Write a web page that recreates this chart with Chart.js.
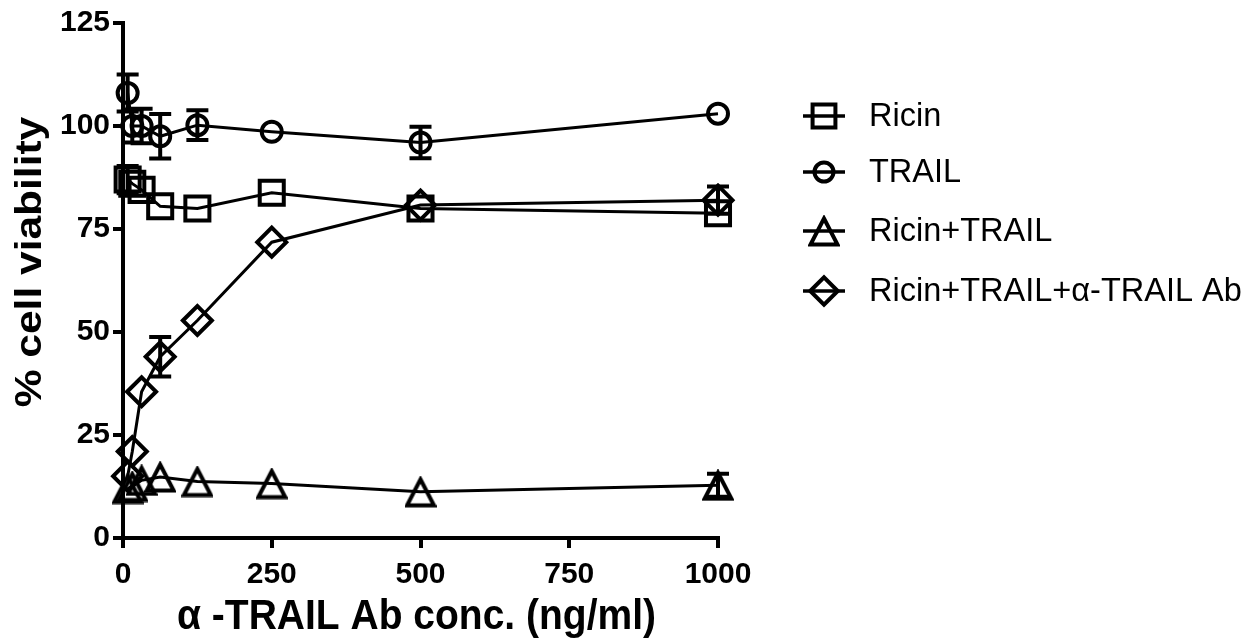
<!DOCTYPE html>
<html>
<head>
<meta charset="utf-8">
<script src="https://cdn.jsdelivr.net/npm/chart.js@4.4.1/dist/chart.umd.min.js"></script>
<style>
  html, body { margin: 0; padding: 0; background: #ffffff; }
  #wrap { width: 1259px; height: 644px; }
</style>
</head>
<body>
<div id="wrap"><canvas id="chart" width="1259" height="644"></canvas></div>
<script>
// Antibody concentrations (ng/ml), two-fold dilution series
const concentrations = [7.8, 15.6, 31.25, 62.5, 125, 250, 500, 1000];

// % cell viability per treatment, with SEM
const ricinValues       = [87, 86, 84.5, 80.5, 80, 83.8, 80, 78.8];
const ricinErrors       = [3.3, 0, 0, 0, 0, 0, 0, 0];
const trailValues       = [108, 100, 100, 97.5, 100.2, 98.6, 96, 103];
const trailErrors       = [4.5, 4, 4.2, 5.4, 3.6, 0, 3.8, 0];
const ricinTrailValues  = [12, 12.5, 14, 14.8, 13.7, 13.2, 11.2, 12.8];
const ricinTrailErrors  = [0, 0, 0, 0, 0, 0, 0, 2.8];
const blockedValues     = [15, 21, 35.5, 44, 52.8, 71.8, 80.8, 82];
const blockedErrors     = [0, 0, 0, 4.8, 0, 0, 0, 3.3];

const seriesLabels = ['Ricin', 'TRAIL', 'Ricin+TRAIL', 'Ricin+TRAIL+\u03B1-TRAIL Ab'];
const xTickValues = [0, 250, 500, 750, 1000];
const yTickValues = [0, 25, 50, 75, 100, 125];
const xTitle = '\u03B1 -TRAIL Ab conc. (ng/ml)';
const yTitle = '% cell viability';

const FONT = "'Liberation Sans', Arial, Helvetica, sans-serif";

// Open triangle centred on its bounding box, so the line runs through its middle
function makeTriangle(size, lw) {
  const c = document.createElement('canvas');
  c.width = size; c.height = size;
  const g = c.getContext('2d');
  const m = lw / 2 + 0.5;
  g.strokeStyle = '#000';
  g.lineWidth = lw;
  g.lineJoin = 'miter';
  g.beginPath();
  g.moveTo(size / 2, m + 1);
  g.lineTo(size - m, size - m);
  g.lineTo(m, size - m);
  g.closePath();
  g.stroke();
  return c;
}
const triangleMark = makeTriangle(32, 4);

function toPoints(values) {
  return concentrations.map((c, i) => ({ x: c, y: values[i] }));
}

function series(label, values, errors, style, radius) {
  return {
    label: label,
    data: toPoints(values),
    errors: errors,
    clip: false,
    borderColor: '#000',
    borderWidth: 3,
    tension: 0,
    fill: false,
    pointStyle: style,
    pointRadius: radius,
    pointHoverRadius: radius,
    pointBorderWidth: 4,
    pointBorderColor: '#000',
    pointBackgroundColor: 'rgba(0,0,0,0)'
  };
}

const datasets = [
  series(seriesLabels[0], ricinValues, ricinErrors, 'rect', 17),
  series(seriesLabels[1], trailValues, trailErrors, 'circle', 10),
  series(seriesLabels[2], ricinTrailValues, ricinTrailErrors, triangleMark, 16),
  series(seriesLabels[3], blockedValues, blockedErrors, 'rectRot', 14.5)
];

// Vertical SEM bars with caps
const errorBars = {
  id: 'errorBars',
  afterDatasetsDraw(chart) {
    const ctx = chart.ctx;
    const xs = chart.scales.x, ys = chart.scales.y;
    ctx.save();
    ctx.strokeStyle = '#000';
    ctx.lineWidth = 4;
    ctx.lineCap = 'butt';
    chart.data.datasets.forEach(ds => {
      ds.data.forEach((p, i) => {
        const e = ds.errors[i];
        if (!e) return;
        const x = xs.getPixelForValue(p.x);
        const yt = ys.getPixelForValue(p.y + e);
        const yb = ys.getPixelForValue(p.y - e);
        const cap = 11;
        ctx.beginPath();
        ctx.moveTo(x, yt); ctx.lineTo(x, yb);
        ctx.moveTo(x - cap, yt); ctx.lineTo(x + cap, yt);
        ctx.moveTo(x - cap, yb); ctx.lineTo(x + cap, yb);
        ctx.stroke();
      });
    });
    ctx.restore();
  }
};

// Axis titles (letters drawn slightly tall, as in the figure's typeface)
const axisTitles = {
  id: 'axisTitles',
  afterDraw(chart) {
    const ctx = chart.ctx;
    const area = chart.chartArea;
    ctx.save();
    ctx.fillStyle = '#000';
    ctx.font = 'bold 39px ' + FONT;
    ctx.textAlign = 'center';
    ctx.textBaseline = 'middle';
    ctx.save();
    ctx.translate((area.left + area.right) / 2 - 4, 617);
    ctx.scale(1, 1.1);
    ctx.fillText(xTitle, 0, 0);
    ctx.restore();
    ctx.font = 'bold 36px ' + FONT;
    ctx.translate(31, 262);
    ctx.rotate(-Math.PI / 2);
    ctx.scale(1.18, 1);
    ctx.fillText(yTitle, 0, 0);
    ctx.restore();
  }
};

// Legend: symbol with a line through it, then the label
const sideLegend = {
  id: 'sideLegend',
  afterDraw(chart) {
    const ctx = chart.ctx;
    const rows = [116, 172, 231, 291];
    const cx = 824;
    ctx.save();
    chart.data.datasets.forEach((ds, i) => {
      const y = rows[i];
      ctx.strokeStyle = '#000';
      ctx.lineWidth = 3.5;
      ctx.beginPath();
      ctx.moveTo(cx - 21, y);
      ctx.lineTo(cx + 21, y);
      ctx.stroke();
      ctx.fillStyle = 'rgba(0,0,0,0)';
      ctx.strokeStyle = '#000';
      ctx.lineWidth = 4;
      Chart.helpers.drawPoint(ctx, {
        pointStyle: ds.pointStyle,
        radius: ds.pointRadius * 0.95,
        borderWidth: 4
      }, cx, y);
      ctx.fillStyle = '#000';
      ctx.font = '32.5px ' + FONT;
      ctx.textAlign = 'left';
      ctx.textBaseline = 'middle';
      ctx.fillText(ds.label, 869, y + 1);
    });
    ctx.restore();
  }
};

new Chart(document.getElementById('chart'), {
  type: 'line',
  data: { datasets: datasets },
  options: {
    responsive: false,
    animation: false,
    events: [],
    layout: { padding: { left: 0, top: 23, right: 541, bottom: 0 } },
    plugins: { legend: { display: false }, tooltip: { enabled: false } },
    scales: {
      x: {
        type: 'linear',
        min: 0,
        max: 1000,
        afterBuildTicks(scale) { scale.ticks = xTickValues.map(v => ({ value: v })); },
        afterFit(scale) { scale.height = 644 - 538; },
        ticks: {
          color: '#000', font: { family: FONT, size: 30, weight: 'bold' }, padding: 9, maxRotation: 0,
          callback: v => String(v)
        },
        grid: { drawOnChartArea: false, drawTicks: true, tickLength: 10, lineWidth: 4, color: '#000' },
        border: { display: true, width: 4, color: '#000' }
      },
      y: {
        type: 'linear',
        min: 0,
        max: 125,
        afterBuildTicks(scale) { scale.ticks = yTickValues.map(v => ({ value: v })); },
        afterFit(scale) { scale.width = 123; },
        ticks: {
          color: '#000', font: { family: FONT, size: 30, weight: 'bold' }, padding: 3,
          callback: v => String(v)
        },
        grid: { drawOnChartArea: false, drawTicks: true, tickLength: 10, lineWidth: 4, color: '#000' },
        border: { display: true, width: 4, color: '#000' }
      }
    }
  },
  plugins: [errorBars, axisTitles, sideLegend]
});
</script>
</body>
</html>
